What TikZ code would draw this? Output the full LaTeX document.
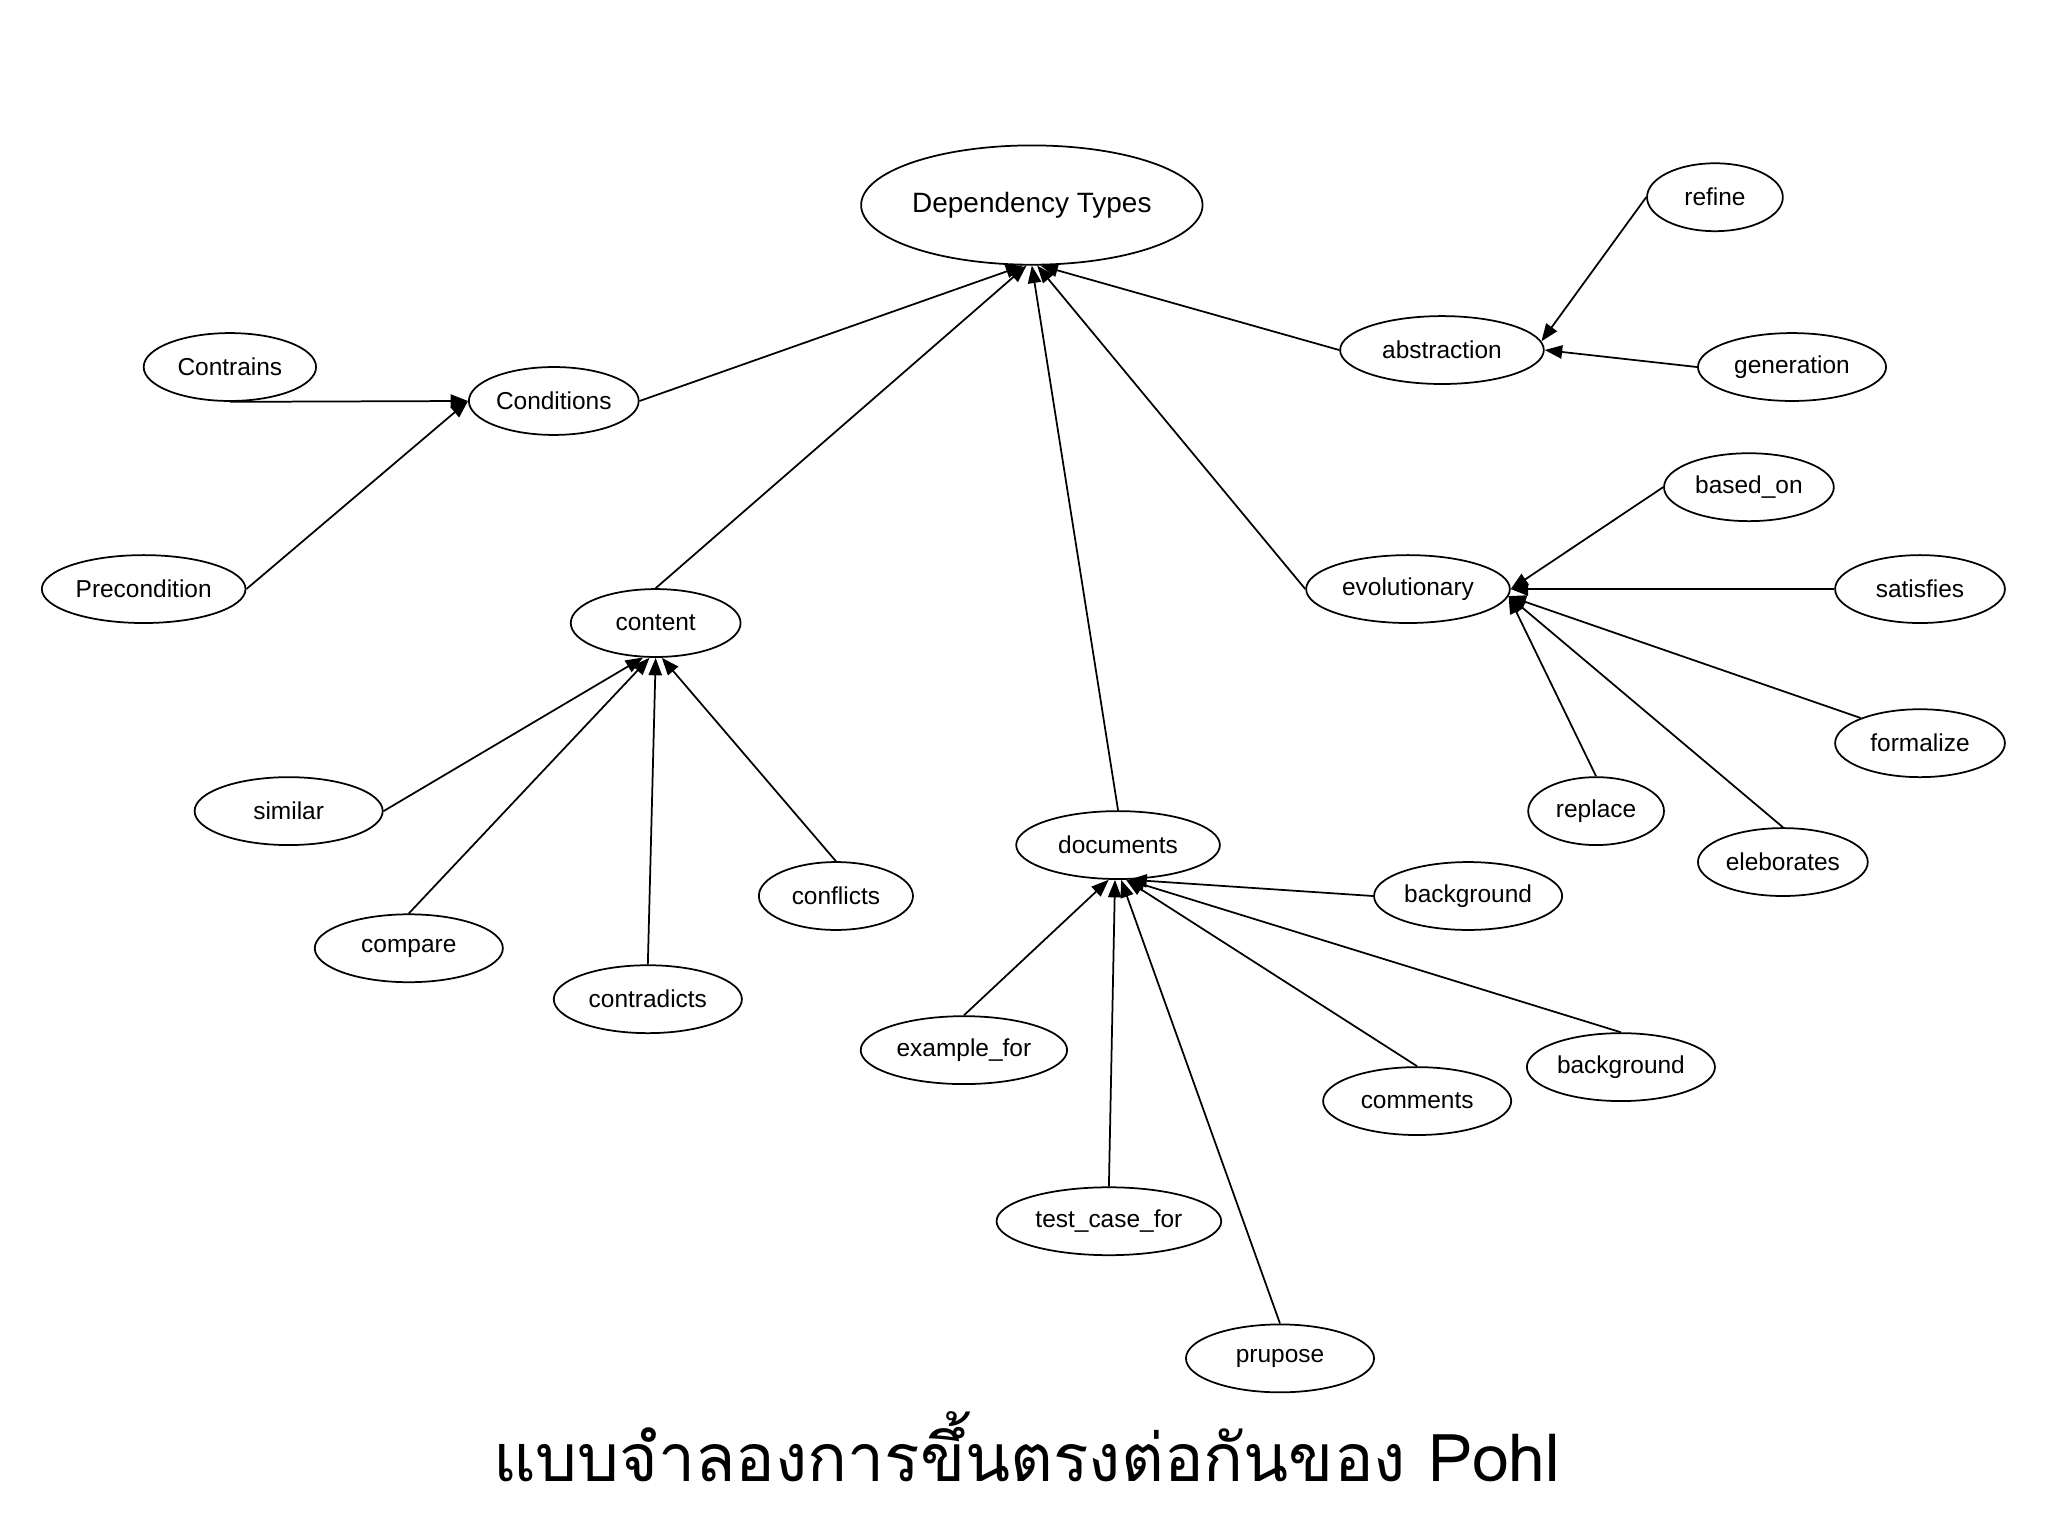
\documentclass[tikz,border=0pt]{standalone}
\usepackage{fontspec}
\usepackage{tikz}
\usetikzlibrary{shapes,arrows.meta,positioning}
\newfontfamily\labelfont{Liberation Sans}
\newfontfamily\thaifont[Script=Thai]{Loma}

\begin{document}
\begin{tikzpicture}[
			x=0.013137cm,
			y=-0.013137cm,
			item/.style={
				ellipse,
				draw,
				line width=0.5pt,
				inner sep=0pt,
				minimum height=0.683cm,
				font=\labelfont\fontsize{7}{9}\selectfont
			},
			arrow/.style={-{Triangle[length=5pt,width=3.8pt]}, line width=0.5pt}
			]
			\useasboundingbox (0,0) rectangle (1568,1176);
			% root of the model
			\node[item, minimum width=3.434cm, minimum height=1.20cm, font=\labelfont\fontsize{8}{10}\selectfont] (dependency) at (790,157) {Dependency Types};
			% conditions branch
			\node[item, minimum width=1.734cm] (contrains) at (176,281) {Contrains};
			\node[item, minimum width=1.708cm] (conditions) at (424,307) {Conditions};
			\node[item, minimum width=2.049cm] (precondition) at (110,451) {Precondition};
			% content branch
			\node[item, minimum width=1.708cm] (content) at (502,477) {content};
			\node[item, minimum width=1.892cm] (similar) at (221,621) {similar};
			\node[item, minimum width=1.892cm] (compare) at (313,726) {compare};
			\node[item, minimum width=1.892cm] (contradicts) at (496,765) {contradicts};
			\node[item, minimum width=1.550cm] (conflicts) at (640,686) {conflicts};
			% documents branch
			\node[item, minimum width=2.049cm] (documents) at (856,647) {documents};
			\node[item, minimum width=1.892cm] (background) at (1124,686) {background};
			\node[item, minimum width=2.076cm] (examplefor) at (738,804) {example\_for};
			\node[item, minimum width=1.892cm] (backgroundb) at (1241,817) {background};
			\node[item, minimum width=1.892cm] (comments) at (1085,843) {comments};
			\node[item, minimum width=2.260cm] (testcasefor) at (849,935) {test\_case\_for};
			\node[item, minimum width=1.892cm] (prupose) at (980,1040) {prupose};
			% abstraction branch
			\node[item, minimum width=1.366cm] (refine) at (1313,151) {refine};
			\node[item, minimum width=2.049cm] (abstraction) at (1104,268) {abstraction};
			\node[item, minimum width=1.892cm] (generation) at (1372,281) {generation};
			% evolutionary branch
			\node[item, minimum width=1.708cm] (basedon) at (1339,373) {based\_on};
			\node[item, minimum width=2.049cm] (evolutionary) at (1078,451) {evolutionary};
			\node[item, minimum width=1.708cm] (satisfies) at (1470,451) {satisfies};
			\node[item, minimum width=1.708cm] (formalize) at (1470,569) {formalize};
			\node[item, minimum width=1.366cm] (replace) at (1222,621) {replace};
			\node[item, minimum width=1.708cm] (eleborates) at (1365,660) {eleborates};
			% title
			\node[font=\thaifont\fontsize{18.9}{22}\selectfont, anchor=base, inner sep=0pt] (title) at (786,1134) {แบบจำลองการขึ้นตรงต่อกันของ Pohl};
			% arrows into the root
			\draw[arrow] (conditions.east) -- (dependency.262);
			\draw[arrow] (content.north) -- (dependency.265);
			\draw[arrow] (documents.north) -- (dependency.270);
			\draw[arrow] (evolutionary.west) -- (dependency.275);
			\draw[arrow] (abstraction.west) -- (dependency.278);
			% arrows into conditions
			\draw[arrow] (contrains.south) -- (conditions.west);
			\draw[arrow] (precondition.east) -- (conditions.west);
			% arrows into content
			\draw[arrow] (similar.east) -- (content.250);
			\draw[arrow] (compare.north) -- (content.260);
			\draw[arrow] (contradicts.north) -- (content.270);
			\draw[arrow] (conflicts.north) -- (content.280);
			% arrows into documents
			\draw[arrow] (examplefor.north) -- (documents.255);
			\draw[arrow] (testcasefor.north) -- (documents.265);
			\draw[arrow] (prupose.north) -- (documents.275);
			\draw[arrow] (comments.north) -- (documents.283);
			\draw[arrow] (backgroundb.north) -- (documents.285);
			\draw[arrow] (background.west) -- (documents.288);
			% arrows into abstraction
			\draw[arrow] (refine.west) -- (abstraction.5);
			\draw[arrow] (generation.west) -- (abstraction.east);
			% arrows into evolutionary
			\draw[arrow] (basedon.west) -- (evolutionary.east);
			\draw[arrow] (satisfies.west) -- (evolutionary.east);
			\draw[arrow] (formalize.157) -- (evolutionary.-4);
			\draw[arrow] (eleborates.north) -- (evolutionary.-4);
			\draw[arrow] (replace.north) -- (evolutionary.-4);
		\end{tikzpicture}
\end{document}
